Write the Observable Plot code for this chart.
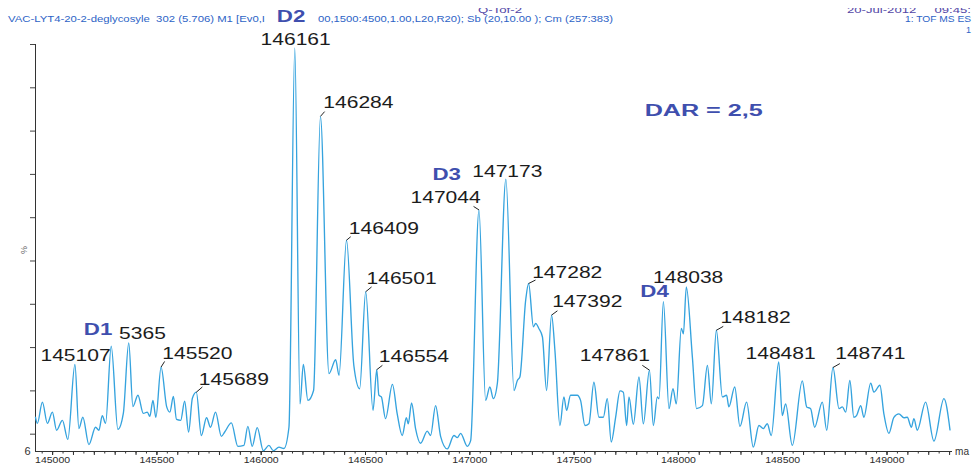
<!DOCTYPE html>
<html>
<head>
<meta charset="utf-8">
<script src="https://cdn.jsdelivr.net/npm/d3@7"></script>
<script src="https://cdn.jsdelivr.net/npm/@observablehq/plot@0.6"></script>
<style>
  html, body { margin: 0; padding: 0; background: #fff; overflow: hidden; }
  #chart svg { display: block; }
</style>
</head>
<body>
<div id="chart"></div>
<script>
// ---- spectrum trace (mass in Da, relative intensity in %) ----
const mass = [144918,144927,144951,144975,144999,145019,145047,145073,145107,145126,
  145145,145174,145206,145222,145238,145254,145281,145313,145339,145365,
  145385,145409,145435,145454,145466,145481,145495,145520,145547,145562,
  145579,145594,145614,145633,145652,145670,145689,145713,145738,145757,
  145781,145809,145825,145857,145888,145917,145936,145957,145981,146010,
  146037,146058,146085,146109,146133,146161,146186,146202,146224,146251,
  146284,146325,146357,146373,146409,146444,146472,146501,146536,146554,
  146564,146576,146596,146629,146652,146676,146696,146705,146721,146740,
  146764,146796,146812,146836,146860,146892,146924,146940,146956,146988,
  147004,147044,147076,147096,147113,147132,147173,147212,147228,147240,
  147268,147282,147305,147316,147331,147348,147368,147392,147408,147432,
  147451,147464,147483,147515,147531,147552,147571,147595,147619,147640,
  147659,147678,147699,147720,147736,147752,147763,147784,147811,147832,
  147861,147880,147899,147907,147928,147955,147974,147990,148014,148024,
  148038,148067,148087,148115,148139,148158,148182,148211,148231,148242,
  148270,148295,148327,148359,148386,148407,148426,148445,148481,148498,
  148514,148546,148594,148615,148634,148653,148690,148711,148741,148770,
  148786,148802,148822,148841,148854,148874,148889,148922,148937,148966,
  148985,149009,149033,149057,149081,149097,149117,149129,149145,149185,
  149225,149273,149302];
const intensity = [13.9,12.5,17.4,12.5,15.1,10.9,13.2,8.8,26.1,11.3,
  13.9,7.6,11.6,10.9,14.3,12.5,30.3,11.1,14.8,31.1,
  16.4,19.0,14.8,15.1,14.1,17.8,13.9,25.5,16.3,15.1,
  18.7,13.4,13.2,17.6,10.5,18.3,19.7,9.7,13.8,11.6,
  15.1,9.5,10.5,12.6,7.2,7.4,11.8,7.2,11.5,6.2,
  7.4,6.2,7.0,6.7,11.6,99.2,17.0,26.1,17.8,20.1,
  83.4,24.0,27.2,23.6,54.8,25.9,20.5,42.9,15.5,24.9,
  19.0,18.6,13.6,21.5,14.7,9.7,13.8,12.4,17.2,11.3,
  7.9,10.7,9.7,16.6,9.5,6.6,9.7,9.2,10.2,7.2,
  8.5,61.8,17.8,20.9,18.2,21.7,68.9,20.1,22.4,23.2,
  41.0,44.8,34.8,35.6,34.4,32.5,20.1,37.5,29.4,12.0,
  18.6,15.5,19.0,19.0,17.8,12.0,12.4,22.0,13.9,13.9,
  18.2,8.2,13.9,20.0,19.7,12.0,18.6,12.3,23.2,12.4,
  24.8,12.0,18.6,18.2,40.6,15.9,20.5,17.0,34.4,33.2,
  44.0,27.8,15.9,16.6,25.9,17.0,34.0,18.6,19.0,16.3,
  20.9,11.8,17.4,7.0,12.0,11.3,12.4,9.7,26.7,14.3,
  17.0,7.4,22.3,16.3,15.9,11.6,17.4,10.9,25.4,15.9,
  16.3,15.1,22.4,13.9,14.3,16.6,13.9,21.8,19.7,21.3,
  14.7,10.2,13.9,14.7,13.8,13.9,11.6,13.6,10.9,17.4,
  8.4,18.2,11.0];

// ---- peak mass labels (text anchored at its centre/baseline, data units) ----
const peakLabels    = ["145107","5365","145520","145689","146161","146284","146409","146501","146554",
                       "147044","147173","147282","147392","147861","148038","148182","148481","148741"];
const peakLabelMass = [145110,145431,145694,145869,146165,146466,146588,146673,146732,
                       146884,147180,147467,147563,147695,148047,148370,148490,148920];
const peakLabelInt  = [26.8,31.9,27.3,21.3,100.0,85.4,56.2,44.7,26.7,
                       63.4,69.5,46.0,39.3,26.9,44.9,35.6,27.3,27.3];

// ---- leader ticks from peak apex to its label ----
const leaderMass    = [145520,145689,146284,146409,146501,146554,147044,147282,147392,147861,148182,148741];
const leaderInt     = [25.5,19.7,83.4,54.8,42.9,24.9,61.8,44.8,37.5,24.8,34.0,25.4];
const leaderEndMass = [145537,145718,146304,146429,146529,146581,147018,147315,147420,147827,148215,148774];
const leaderEndInt  = [26.8,20.9,84.5,55.6,44.0,25.9,62.6,45.6,38.5,25.9,34.9,26.3];

// ---- drug-load species labels ----
const speciesLabels = ["D1","D2","D3","D4"];
const speciesMass   = [145218,146143,146889,147886];
const speciesInt    = [32.9,105.2,68.6,41.6];
const darText = ["DAR = 2,5"];
const darMass = [148121];
const darInt  = [83.6];

// ---- axes ----
const massDomain = [144918, 149314];
const intensityDomain = [6, 100];
const massTicks = d3.range(145000, 149001, 500);
const massMinorTicks = d3.range(144950, 149301, 50);
const massMidTicks = d3.range(145000, 149301, 100);
const intensityTicks = d3.range(10, 101, 10);
const intensityBaseTick = [6];

// ---- header strings ----
const headerLeft = "VAC-LYT4-20-2-deglycosyle  302 (5.706) M1 [Ev0,I";
const headerMid = "00,1500:4500,1.00,L20,R20); Sb (20,10.00 ); Cm (257:383)";
const headerInstrument = "Q-Tof-2";
const headerDate = "20-Jul-2012     09:45:";
const headerMode = "1: TOF MS ES";
const headerScale = "1";
const yUnit = "%";
const xUnit = "ma";

const trace = mass.map((m, i) => ({m, i: intensity[i]}));
const labelRows = peakLabels.map((t, k) => ({t, m: peakLabelMass[k], i: peakLabelInt[k]}));
const leaderRows = leaderMass.map((m, k) => ({m1: m, i1: leaderInt[k], m2: leaderEndMass[k], i2: leaderEndInt[k]}));
const speciesRows = speciesLabels.map((t, k) => ({t, m: speciesMass[k], i: speciesInt[k]}));
const darRows = darText.map((t, k) => ({t, m: darMass[k], i: darInt[k]}));

const FONT = "Liberation Sans, Arial, Helvetica, sans-serif";

const svg = Plot.plot({
  width: 972,
  height: 464,
  marginLeft: 35,
  marginRight: 20,
  marginTop: 44,
  marginBottom: 13,
  style: {fontFamily: FONT, background: "#fff", overflow: "hidden"},
  x: {domain: massDomain, label: null},
  y: {domain: intensityDomain, label: null},
  marks: [
    Plot.axisX({ticks: massMinorTicks, tickSize: 2.5, tickFormat: () => "", label: null, stroke: "#333"}),
    Plot.axisX({ticks: massMidTicks, tickSize: 4, tickFormat: () => "", label: null, stroke: "#333"}),
    Plot.axisX({ticks: massTicks, tickSize: 4, tickPadding: 1.5, tickFormat: d3.format("d"),
                fontSize: 8.5, fill: "#2a2a2a", stroke: "#333", label: null}),
    Plot.axisY({ticks: intensityTicks, tickSize: 5, tickFormat: () => "", label: null, stroke: "#444"}),
    Plot.axisY({ticks: intensityBaseTick, tickSize: 0, tickPadding: 5, tickFormat: d3.format("d"),
                fontSize: 11, fill: "#333", label: null}),
    Plot.ruleX([massDomain[0]], {stroke: "#333", strokeWidth: 1}),
    Plot.ruleY([intensityDomain[0]], {stroke: "#333", strokeWidth: 1}),
    Plot.line(trace, {x: "m", y: "i", stroke: "#35a3de", strokeWidth: 1.35, curve: "monotone-x"}),
    Plot.link(leaderRows, {x1: "m1", y1: "i1", x2: "m2", y2: "i2", stroke: "#222", strokeWidth: 1}),
    Plot.text(labelRows, {x: "m", y: "i", text: "t", fontSize: 17, fill: "#1c1c1c",
                          textAnchor: "middle", lineAnchor: "bottom", fontFamily: FONT}),
    Plot.text(speciesRows, {x: "m", y: "i", text: "t", fontSize: 16, fontWeight: "bold", fill: "#3f4fae",
                            textAnchor: "middle", lineAnchor: "bottom", fontFamily: FONT}),
    Plot.text(darRows, {x: "m", y: "i", text: "t", fontSize: 16, fontWeight: "bold", fill: "#3f4fae",
                        textAnchor: "middle", lineAnchor: "bottom", fontFamily: FONT})
  ]
});

// stretch the scanned-looking labels to the widths seen in the reference
svg.querySelectorAll('g[aria-label="text"] text').forEach(el => {
  const s = el.textContent;
  let w = null;
  if (/^\d+$/.test(s)) w = s.length * 11.7;
  else if (/^D\d$/.test(s)) w = 28.5;
  else if (s.startsWith("DAR")) w = 118;
  if (w) { el.setAttribute("textLength", w); el.setAttribute("lengthAdjust", "spacingAndGlyphs"); }
});
svg.querySelectorAll('g[aria-label="x-axis tick label"] text').forEach(el => {
  if (el.textContent.trim()) { el.setAttribute("textLength", 35); el.setAttribute("lengthAdjust", "spacingAndGlyphs"); }
});

// header / unit annotations
const root = d3.select(svg);
const notes = root.append("g").attr("text-anchor", "start");
function addText(str, x, y, opts) {
  const t = notes.append("text").attr("x", x).attr("y", y).text(str)
    .attr("text-anchor", opts.anchor || "start")
    .attr("font-family", FONT).attr("font-size", opts.size).attr("fill", opts.fill);
  if (opts.len) t.attr("textLength", opts.len).attr("lengthAdjust", "spacingAndGlyphs");
  if (opts.rotate) t.attr("transform", `rotate(${opts.rotate},${x},${y})`);
  return t;
}
addText(headerInstrument, 478, 12.5, {size: 9, fill: "#5246a6", len: 44});
addText(headerDate, 847, 12.5, {size: 9, fill: "#5246a6", len: 124});
notes.append("rect").attr("x", 0).attr("y", 0).attr("width", 972).attr("height", 8).attr("fill", "#fff");
addText(headerLeft, 8, 22, {size: 9, fill: "#2d63c6", len: 257});
addText(headerMid, 318, 22, {size: 9, fill: "#2d63c6", len: 295});
addText(headerMode, 905, 22, {size: 9, fill: "#2d63c6", len: 66});
addText(headerScale, 966, 33, {size: 9, fill: "#2d63c6"});
addText(yUnit, 27, 250, {size: 9, fill: "#666", rotate: -90, anchor: "middle"});
addText(xUnit, 955, 455, {size: 10, fill: "#333", len: 14});

document.getElementById("chart").appendChild(svg);
</script>
</body>
</html>
